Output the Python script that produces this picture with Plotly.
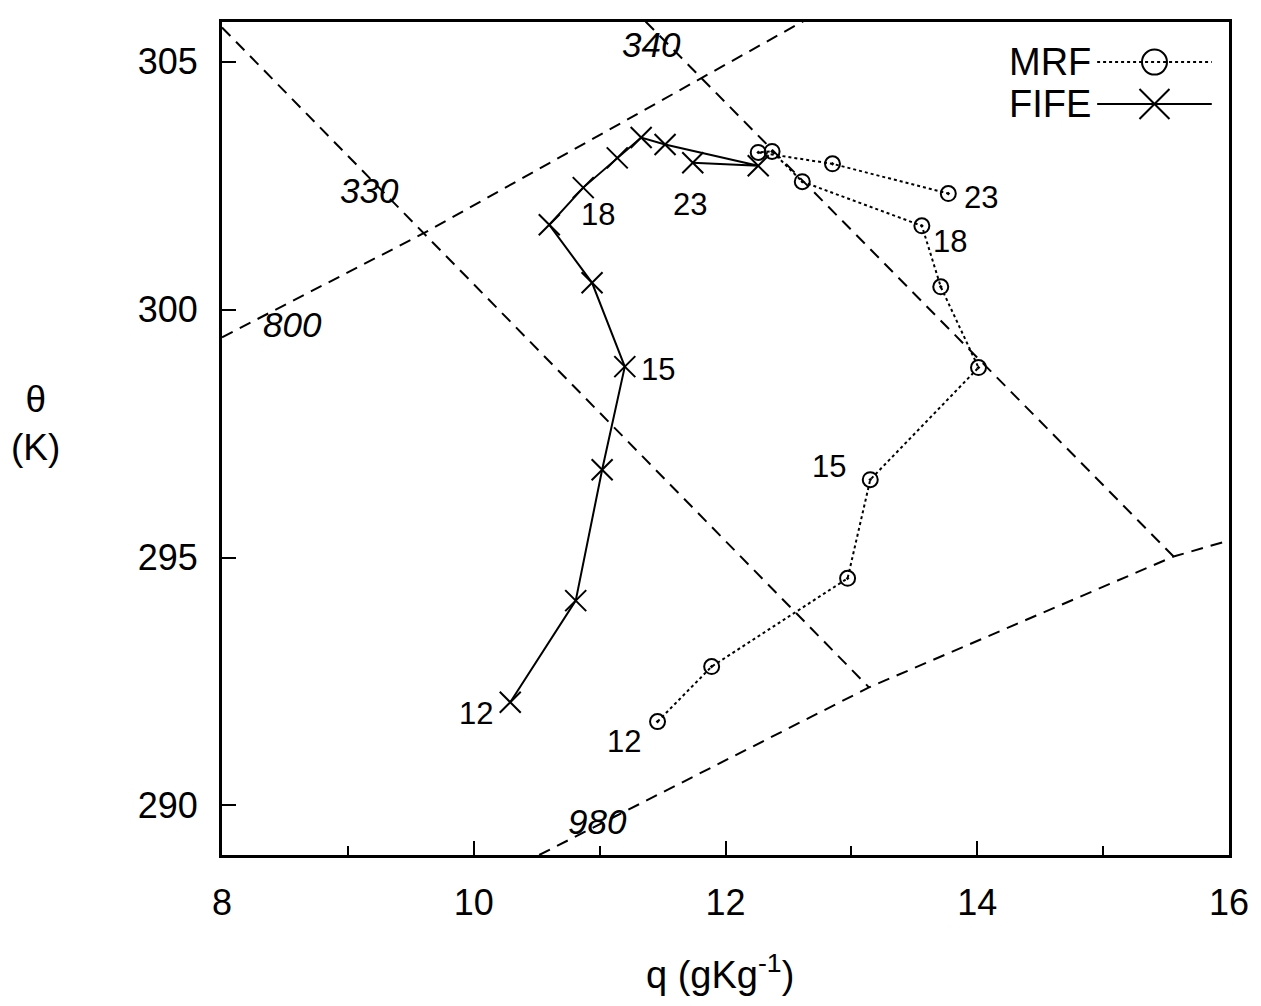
import plotly.graph_objects as go

# Diurnal mixing diagram: specific humidity q vs potential temperature theta, hours 12-23
hours = list(range(12, 24))

fife_q = [10.29, 10.81, 11.02, 11.20, 10.94, 10.60, 10.87, 11.14, 11.33, 11.52, 12.26, 11.74]
fife_theta = [292.08, 294.13, 296.77, 298.85, 300.54, 301.71, 302.46, 303.06, 303.47, 303.33, 302.90, 302.96]

mrf_q = [11.46, 11.89, 12.97, 13.15, 14.01, 13.71, 13.56, 12.61, 12.37, 12.26, 12.85, 13.77]
mrf_theta = [291.69, 292.80, 294.58, 296.57, 298.83, 300.46, 301.69, 302.58, 303.19, 303.17, 302.94, 302.34]

# Reference lines: equivalent potential temperature (330, 340 K) and pressure (800, 980 hPa)
thetae330_q = [8.0, 13.14]
thetae330_theta = [305.69, 292.38]
thetae340_q = [11.365, 15.56]
thetae340_theta = [305.81, 295.02]
p800_q = [8.0, 9.61, 12.67]
p800_theta = [299.44, 301.55, 305.89]
p980_q = [10.52, 13.14, 15.56, 16.05]
p980_theta = [289.0, 292.38, 295.02, 295.38]

ref_labels = ["330", "340", "800", "980"]
ref_label_q = [9.17, 11.41, 8.56, 10.98]
ref_label_theta = [302.40, 305.34, 299.70, 289.68]

# Hours annotated along each track, with pixel offsets from the point
fife_label_hours = [12, 15, 18, 23]
fife_label_shift = [(-34, -11), (33, -3), (15, -27), (-3, -42)]
mrf_label_hours = [12, 15, 18, 23]
mrf_label_shift = [(-34, -20), (-41, 13), (28, -16), (33, -4)]

FONT = "Liberation Sans, Arial, Helvetica, sans-serif"
BLACK = "#000000"

fig = go.Figure()

for xs, ys in [(thetae330_q, thetae330_theta), (thetae340_q, thetae340_theta),
               (p800_q, p800_theta), (p980_q, p980_theta)]:
    fig.add_trace(go.Scatter(x=xs, y=ys, mode="lines", showlegend=False, hoverinfo="skip",
                             line=dict(color=BLACK, width=2, dash="12px,8px")))

fig.add_trace(go.Scatter(
    x=mrf_q, y=mrf_theta, mode="lines+markers", name="MRF", showlegend=False,
    line=dict(color=BLACK, width=2, dash="3px,3px"),
    marker=dict(symbol="circle-open-dot", size=15, color=BLACK, line=dict(width=2, color=BLACK)),
    cliponaxis=False,
))
fig.add_trace(go.Scatter(
    x=fife_q, y=fife_theta, mode="lines+markers", name="FIFE", showlegend=False,
    line=dict(color=BLACK, width=2),
    marker=dict(symbol="x-thin-open", size=21, color=BLACK, line=dict(width=2, color=BLACK)),
    cliponaxis=False,
))

# Legend key drawn on a small inset axis (row 1 = MRF, row 0 = FIFE)
fig.add_trace(go.Scatter(x=[0, 1], y=[1, 1], mode="lines", xaxis="x2", yaxis="y2",
                         showlegend=False, hoverinfo="skip",
                         line=dict(color=BLACK, width=2, dash="3px,3px")))
fig.add_trace(go.Scatter(x=[0.5], y=[1], mode="markers", xaxis="x2", yaxis="y2",
                         showlegend=False, hoverinfo="skip", cliponaxis=False,
                         marker=dict(symbol="circle-open", size=25, color=BLACK,
                                     line=dict(width=2, color=BLACK))))
fig.add_trace(go.Scatter(x=[0, 1], y=[0, 0], mode="lines", xaxis="x2", yaxis="y2",
                         showlegend=False, hoverinfo="skip",
                         line=dict(color=BLACK, width=2)))
fig.add_trace(go.Scatter(x=[0.5], y=[0], mode="markers", xaxis="x2", yaxis="y2",
                         showlegend=False, hoverinfo="skip", cliponaxis=False,
                         marker=dict(symbol="x-thin-open", size=30, color=BLACK,
                                     line=dict(width=2, color=BLACK))))

annotations = []
for txt, qx, ty in zip(ref_labels, ref_label_q, ref_label_theta):
    annotations.append(dict(x=qx, y=ty, xref="x", yref="y", text=f"<i>{txt}</i>", showarrow=False,
                            font=dict(family=FONT, size=35, color=BLACK)))

for hrs, (dx, dy) in zip(fife_label_hours, fife_label_shift):
    i = hours.index(hrs)
    annotations.append(dict(x=fife_q[i], y=fife_theta[i], xref="x", yref="y", text=str(hrs),
                            showarrow=False, xshift=dx, yshift=dy,
                            font=dict(family=FONT, size=31, color=BLACK)))
for hrs, (dx, dy) in zip(mrf_label_hours, mrf_label_shift):
    i = hours.index(hrs)
    annotations.append(dict(x=mrf_q[i], y=mrf_theta[i], xref="x", yref="y", text=str(hrs),
                            showarrow=False, xshift=dx, yshift=dy,
                            font=dict(family=FONT, size=31, color=BLACK)))

# Legend labels
annotations.append(dict(x=0.869, y=1, xref="paper", yref="y2", text="MRF", showarrow=False,
                        xanchor="right", xshift=-4, font=dict(family=FONT, size=38, color=BLACK)))
annotations.append(dict(x=0.869, y=0, xref="paper", yref="y2", text="FIFE", showarrow=False,
                        xanchor="right", xshift=-4, font=dict(family=FONT, size=38, color=BLACK)))

# Axis titles
annotations.append(dict(x=0.495, y=-0.140, xref="paper", yref="paper",
                        text="q (gKg<sup>-1</sup>)", showarrow=False, yanchor="middle",
                        font=dict(family=FONT, size=38, color=BLACK)))
annotations.append(dict(x=-0.212, y=0.518, xref="paper", yref="paper",
                        text="\u03b8<br>(K)", showarrow=False, align="center",
                        font=dict(family=FONT, size=37, color=BLACK)))

fig.update_layout(
    width=1261, height=1006,
    margin=dict(l=222, r=29, t=22, b=151),
    paper_bgcolor="white", plot_bgcolor="white",
    font=dict(family=FONT, size=36, color=BLACK),
    annotations=annotations,
    xaxis=dict(
        range=[8, 16], tick0=8, dtick=2, ticks="inside", ticklen=14, tickwidth=2,
        tickcolor=BLACK, showline=True, linewidth=3, linecolor=BLACK, mirror=True,
        showgrid=False, zeroline=False, ticklabelstandoff=14,
        tickfont=dict(family=FONT, size=36, color=BLACK),
        minor=dict(dtick=1, ticks="inside", ticklen=9, tickwidth=2, tickcolor=BLACK, showgrid=False),
    ),
    yaxis=dict(
        range=[289, 305.8], tick0=290, dtick=5, ticks="inside", ticklen=14, tickwidth=2,
        tickcolor=BLACK, showline=True, linewidth=3, linecolor=BLACK, mirror=True,
        showgrid=False, zeroline=False, ticklabelstandoff=14,
        tickfont=dict(family=FONT, size=36, color=BLACK),
    ),
    xaxis2=dict(domain=[0.869, 0.983], range=[0, 1], visible=False, anchor="y2", fixedrange=True),
    yaxis2=dict(domain=[0.8764, 0.977], range=[-0.5, 1.5], visible=False, anchor="x2", fixedrange=True),
)

fig.write_html("out.html")
